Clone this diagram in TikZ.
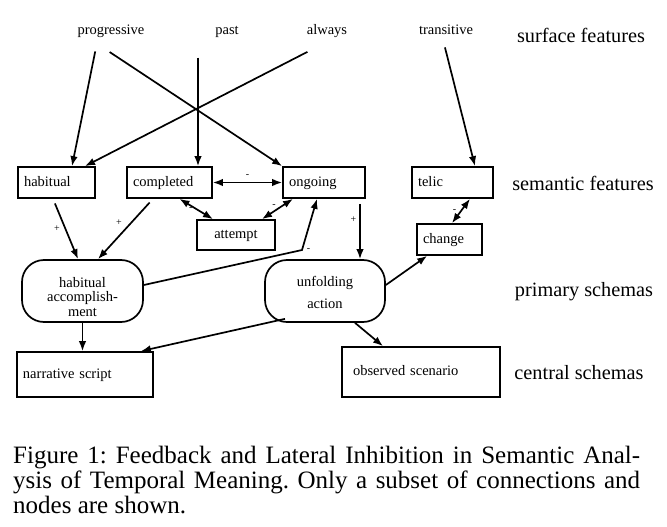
\documentclass[tikz,border=0pt]{standalone}
\usepackage{fontspec}
\setmainfont{Liberation Serif}
\usetikzlibrary{arrows.meta}

\tikzset{
    lbl/.style={inner sep=0pt, text height=10pt, text depth=3pt, font=\fontsize{14.5}{16}\selectfont},
    level/.style={inner sep=0pt, font=\fontsize{20.3}{22}\selectfont},
    featbox/.style={draw, line width=1.7pt, inner xsep=6pt, inner ysep=0pt, minimum height=31pt, text height=10pt, text depth=3pt, align=left, font=\fontsize{14.5}{16}\selectfont},
    schema/.style={draw, line width=1.7pt, rounded corners=22pt, inner sep=0pt, align=center, font=\fontsize{14.5}{14.5}\selectfont},
    sign/.style={inner sep=1pt, font=\fontsize{10}{10}\selectfont},
    arr/.style={line width=1.7pt, -{Latex[length=10pt,width=7.5pt]}},
    darr/.style={line width=1.7pt, {Latex[length=10pt,width=7.5pt]}-{Latex[length=10pt,width=7.5pt]}},
}

\begin{document}
\begin{tikzpicture}[x=1pt, y=-1pt]
    \useasboundingbox (0,0) rectangle (667,527);

    \node[lbl] (progressive) at (111,31) {progressive};
    \node[lbl] (past) at (227,31) {past};
    \node[lbl] (always) at (327,31) {always};
    \node[lbl] (transitive) at (446,31) {transitive};

    \node[featbox, text width=65pt] (habitual) at (56.5,182.5) {habitual};
    \node[featbox, text width=73pt] (completed) at (169.5,182.5) {completed};
    \node[featbox, text width=70pt] (ongoing) at (324,182.5) {ongoing};
    \node[featbox, text width=69pt] (telic) at (452.5,182.5) {telic};
    \node[featbox, text width=66pt, minimum height=30pt, align=center] (attempt) at (236,235) {attempt};
    \node[featbox, text width=53pt] (change) at (449.5,239.5) {change};

    \node[schema, minimum width=121pt, minimum height=62pt] (habacc) at (82.5,291) {\rule{0pt}{22pt}habitual\\accomplish-\\ment};
    \node[schema, minimum width=120pt, minimum height=62pt] (unfolding) at (325,291) {\rule{0pt}{13pt}unfolding\\[8pt]action};

    \node[featbox, text width=124pt, minimum height=45pt] (narrative) at (85,374.5) {narrative script};
    \node[featbox, inner xsep=11pt, text width=136pt, minimum height=50pt] (observed) at (421,372) {observed scenario};

    \node[level] (surface) at (581,35) {surface features};
    \node[level] (semantic) at (583,183) {semantic features};
    \node[level] (primary) at (584,292) {primary schemas};
    \node[level] (central) at (579,373) {central schemas};

    \node[anchor=north west, inner sep=0pt, text width=627pt, align=justify, font=\fontsize{25}{25}\selectfont] (caption) at (13,446)
        {\frenchspacing Figure 1: Feedback and Lateral Inhibition in Semantic Anal-\linebreak ysis of Temporal Meaning. Only a subset of connections and\linebreak nodes are shown.};

    \draw[arr, shorten <=14pt] ([xshift=-13pt]progressive.south) -- ([xshift=15.5pt]habitual.north);
    \draw[arr, shorten <=26pt] ([xshift=-23pt]progressive.south) -- (ongoing.north west);
    \draw[arr, shorten <=20pt] ([xshift=-29pt]past.south) -- ([xshift=28.5pt]completed.north);
    \draw[arr, shorten <=31pt] ([xshift=8pt]always.south) -- ([xshift=28.5pt]habitual.north);
    \draw[arr, shorten <=10pt] ([xshift=-3.5pt]transitive.south) -- ([xshift=22.5pt]telic.north);

    \draw[darr] (completed) -- node[sign, above=3pt] {-} (ongoing);
    \draw[darr] ([xshift=10pt]completed.south) -- node[sign, left=2pt] {-} ([xshift=-23pt]attempt.north);
    \draw[darr] ([xshift=26pt]attempt.north) -- node[sign, above left] {-} ([xshift=-31pt]ongoing.south);
    \draw[darr] ([xshift=17.5pt]telic.south) -- node[sign, left=3pt] {-} ([xshift=2.5pt]change.north);

    \draw[arr, shorten <=5pt] ([xshift=-3.5pt]habitual.south) -- node[sign, left=4pt] {+} ([xshift=-4.5pt]habacc.north);
    \draw[arr, shorten <=5pt] ([xshift=-16.5pt]completed.south) -- node[sign, above left=2pt] {+} ([xshift=15.5pt]habacc.north);
    \coordinate (bend) at (302,250);
    \draw[arr] ([yshift=6pt]habacc.east) -- (bend) node[sign, right=3pt] {-} -- ([xshift=-7pt]ongoing.south);
    \draw[arr, shorten <=5pt] ([xshift=36pt]ongoing.south) -- node[sign, left=2pt, pos=0.35] {+} ([xshift=35pt]unfolding.north);
    \draw[arr] ([yshift=6pt]unfolding.east) -- ([xshift=11pt]change.south west);

    \draw[arr] (habacc.south) -- (habacc.south |- narrative.north);
    \draw[arr] ([xshift=-40pt,yshift=4pt]unfolding.south) -- ([xshift=-13pt]narrative.north east);
    \draw[arr] ([xshift=30pt]unfolding.south) -- ([xshift=-38pt]observed.north);
\end{tikzpicture}
\end{document}
